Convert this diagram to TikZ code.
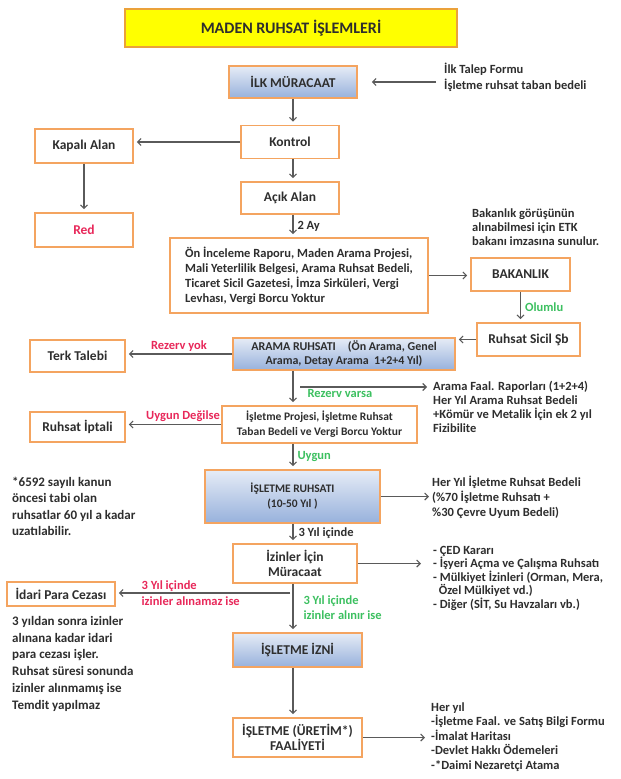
\documentclass[tikz,border=0pt]{standalone}
\usepackage{fontspec}
\setmainfont{Carlito}
\usetikzlibrary{arrows.meta}
\definecolor{boxorange}{HTML}{F4A460}
\definecolor{titleorange}{HTML}{EBA13A}
\definecolor{titleyellow}{HTML}{FFFF00}
\definecolor{arrowgray}{HTML}{5A5A5A}
\definecolor{txt}{HTML}{2E2E2E}
\definecolor{redtxt}{HTML}{E8285A}
\definecolor{greentxt}{HTML}{3CC060}
\definecolor{shadetop}{HTML}{E6ECF6}
\definecolor{shadebot}{HTML}{97B1DC}
\newcommand{\nst}{\rule{0pt}{11pt}}
\begin{document}
\begin{tikzpicture}[x=1pt,y=-1pt,
  box/.style={draw=boxorange,line width=1.6pt,fill=white,text=txt,align=center,inner sep=2pt,
    font=\bfseries\fontsize{13.5}{15}\selectfont},
  shbox/.style={box,top color=shadetop,bottom color=shadebot},
  arr/.style={draw=arrowgray,line width=1.1pt,-{Straight Barb[length=3.5pt,width=7pt]},shorten >=3pt},
  note/.style={anchor=north west,inner sep=0pt,align=left,text=txt},
  lbl/.style={inner sep=2pt,text=txt,font=\bfseries\fontsize{12.5}{14}\selectfont}
]
\useasboundingbox (0,0) rectangle (621,779);
\fill[white] (0,0) rectangle (621,779);
\coordinate (axis) at (293,0);

% boxes
\node[box,fill=titleyellow,draw=titleorange,line width=1.4pt,minimum width=332,minimum height=38,
  font=\bfseries\fontsize{16}{18}\selectfont] (title) at (291,28) {MADEN RUHSAT İŞLEMLERİ};
\node[shbox,minimum width=128,minimum height=32] (ilk) at (293,82) {İLK MÜRACAAT};
\node[box,minimum width=98,minimum height=33] (kontrol) at (290,142) {Kontrol};
\node[box,minimum width=98,minimum height=34] (kapali) at (84,146) {Kapalı Alan};
\node[box,minimum width=98,minimum height=32] (acik) at (290,198) {Açık Alan};
\node[box,minimum width=98,minimum height=34,text=redtxt] (red) at (84,230) {Red};
\node[box,minimum width=258,minimum height=75,align=left,
  font=\bfseries\fontsize{12.5}{15}\selectfont] (big) at (299,275.5)
  {Ön İnceleme Raporu, Maden Arama Projesi,\\Mali Yeterlilik Belgesi, Arama Ruhsat Bedeli,\\
   Ticaret Sicil Gazetesi, İmza Sirküleri, Vergi\\Levhası, Vergi Borcu Yoktur};
\node[box,minimum width=99,minimum height=33] (bakanlik) at (520.5,274.5) {BAKANLIK};
\node[box,minimum width=103,minimum height=33] (sicil) at (528.5,339.5) {Ruhsat Sicil Şb};
\node[shbox,minimum width=222,minimum height=32,font=\bfseries\fontsize{12}{14}\selectfont] (arama) at (344,354)
  {ARAMA RUHSATI\quad(Ön Arama, Genel\\Arama, Detay Arama\ \ 1+2+4 Yıl)};
\node[box,minimum width=95,minimum height=32] (terk) at (77.5,356) {Terk Talebi};
\node[box,minimum width=195,minimum height=37,font=\bfseries\fontsize{11.5}{15}\selectfont] (isproj) at (319.5,424.5)
  {İşletme Projesi, İşletme Ruhsat\\Taban Bedeli ve Vergi Borcu Yoktur};
\node[box,minimum width=95,minimum height=30] (iptal) at (77.5,427) {Ruhsat İptali};
\node[shbox,minimum width=175,minimum height=53,font=\bfseries\fontsize{11.5}{15}\selectfont] (isruhsat) at (292.5,496.5)
  {İŞLETME RUHSATI\\(10-50 Yıl )};
\node[box,minimum width=124,minimum height=39] (izinler) at (295,563.5) {İzinler İçin\\Müracaat};
\node[box,minimum width=108,minimum height=24] (idari) at (61,594) {İdari Para Cezası};
\node[shbox,minimum width=129,minimum height=34] (isizni) at (297.5,650) {İŞLETME İZNİ};
\node[box,minimum width=129,minimum height=39] (faaliyet) at (297.5,737.5) {İŞLETME (ÜRETİM*)\\FAALİYETİ};

% notes
\node[note,font=\bfseries\fontsize{12.5}{16}\selectfont] (ilknote) at (444,62)
  {\nst İlk Talep Formu\\İşletme ruhsat taban bedeli};
\node[note,font=\bfseries\fontsize{12.5}{14}\selectfont] (baknote) at (472,206)
  {\nst Bakanlık görüşünün\\alınabilmesi için ETK\\bakanı imzasına sunulur.};
\node[note,font=\bfseries\fontsize{12.5}{14}\selectfont] (aramanote) at (433,379)
  {\nst Arama Faal. Raporları (1+2+4)\\Her Yıl Arama Ruhsat Bedeli\\+Kömür ve Metalik İçin ek 2 yıl\\Fizibilite};
\node[note,font=\bfseries\fontsize{12.5}{15}\selectfont] (ruhsatnote) at (432,475)
  {\nst Her Yıl İşletme Ruhsat Bedeli\\(\%70 İşletme Ruhsatı +\\\%30 Çevre Uyum Bedeli)};
\node[note,font=\bfseries\fontsize{12.5}{13.5}\selectfont] (izinnote) at (433,543)
  {\nst - ÇED Kararı\\- İşyeri Açma ve Çalışma Ruhsatı\\- Mülkiyet İzinleri (Orman, Mera,\\\ \ Özel Mülkiyet vd.)\\- Diğer (SİT, Su Havzaları vb.)};
\node[note,font=\bfseries\fontsize{12.5}{14.5}\selectfont] (faalnote) at (431,700)
  {\nst Her yıl\\-İşletme Faal. ve Satış Bilgi Formu\\-İmalat Haritası\\-Devlet Hakkı Ödemeleri\\-*Daimi Nezaretçi Atama};
\node[note,font=\bfseries\fontsize{13}{16.5}\selectfont] (leftnote1) at (12,475)
  {\nst *6592 sayılı kanun\\öncesi tabi olan\\ruhsatlar 60 yıl a kadar\\uzatılabilir.};
\node[note,font=\bfseries\fontsize{13}{16.8}\selectfont] (leftnote2) at (12,614)
  {\nst 3 yıldan sonra izinler\\alınana kadar idari\\para cezası işler.\\Ruhsat süresi sonunda\\izinler alınmamış ise\\Temdit yapılmaz};

% connectors
\draw[arr,shorten <=8pt,shorten >=14pt] (ilk.east -| ilknote.west) -- (ilk.east);
\draw[arr] (ilk.south -| axis) -- (kontrol.north -| axis);
\draw[arr] (kontrol.west) -- (kontrol.west -| kapali.east);
\draw[arr] (kontrol.south -| axis) -- (acik.north -| axis);
\draw[arr] (kapali.south) -- (red.north);
\draw[arr] (acik.south -| axis) -- node[lbl,right,xshift=2pt]{2 Ay} (big.north -| axis);
\draw[arr] (big.east) -- (big.east -| bakanlik.west);
\draw[arr] (bakanlik.south) -- node[lbl,right,xshift=2pt,text=greentxt]{Olumlu} (bakanlik.south |- sicil.north);
\draw[arr] (sicil.west) -- (sicil.west -| arama.east);
\draw[arr] (arama.west) -- node[lbl,above,text=redtxt]{Rezerv yok} (arama.west -| terk.east);
\draw[arr] (arama.south -| axis) -- (isproj.north -| axis);
\coordinate (br) at (300,387);
\draw[arr,shorten >=6pt] (br) -- node[lbl,below,pos=0.3,text=greentxt]{Rezerv varsa} (br -| aramanote.west);
\draw[arr] (isproj.west) -- node[lbl,above,pos=0.4,text=redtxt]{Uygun Değilse} (isproj.west -| iptal.east);
\draw[arr] (isproj.south -| axis) -- node[lbl,right,xshift=2pt,text=greentxt]{Uygun} (isruhsat.north -| axis);
\draw[arr] (isruhsat.east) -- (isruhsat.east -| ruhsatnote.west);
\draw[arr] (isruhsat.south -| axis) -- node[lbl,right,xshift=3pt]{3 Yıl içinde} (izinler.north -| axis);
\draw[arr,shorten >=12pt] (izinler.east) -- (izinler.east -| izinnote.west);
\draw[arr] (izinler.south -| axis) -- node[lbl,right,xshift=8pt,text=greentxt,align=left,
  font=\bfseries\fontsize{12.5}{15}\selectfont]{3 Yıl içinde\\izinler alınır ise} (isizni.north -| axis);
\coordinate (rb) at (290,593);
\draw[arr] (rb) -- node[lbl,pos=0.57,text=redtxt,align=left,
  font=\bfseries\fontsize{12.5}{16}\selectfont]{3 Yıl içinde\\izinler alınamaz ise} (rb -| idari.east);
\draw[arr] (isizni.south -| axis) -- (faaliyet.north -| axis);
\draw[arr,shorten >=6pt] (faaliyet.east) -- (faaliyet.east -| faalnote.west);
\end{tikzpicture}
\end{document}
